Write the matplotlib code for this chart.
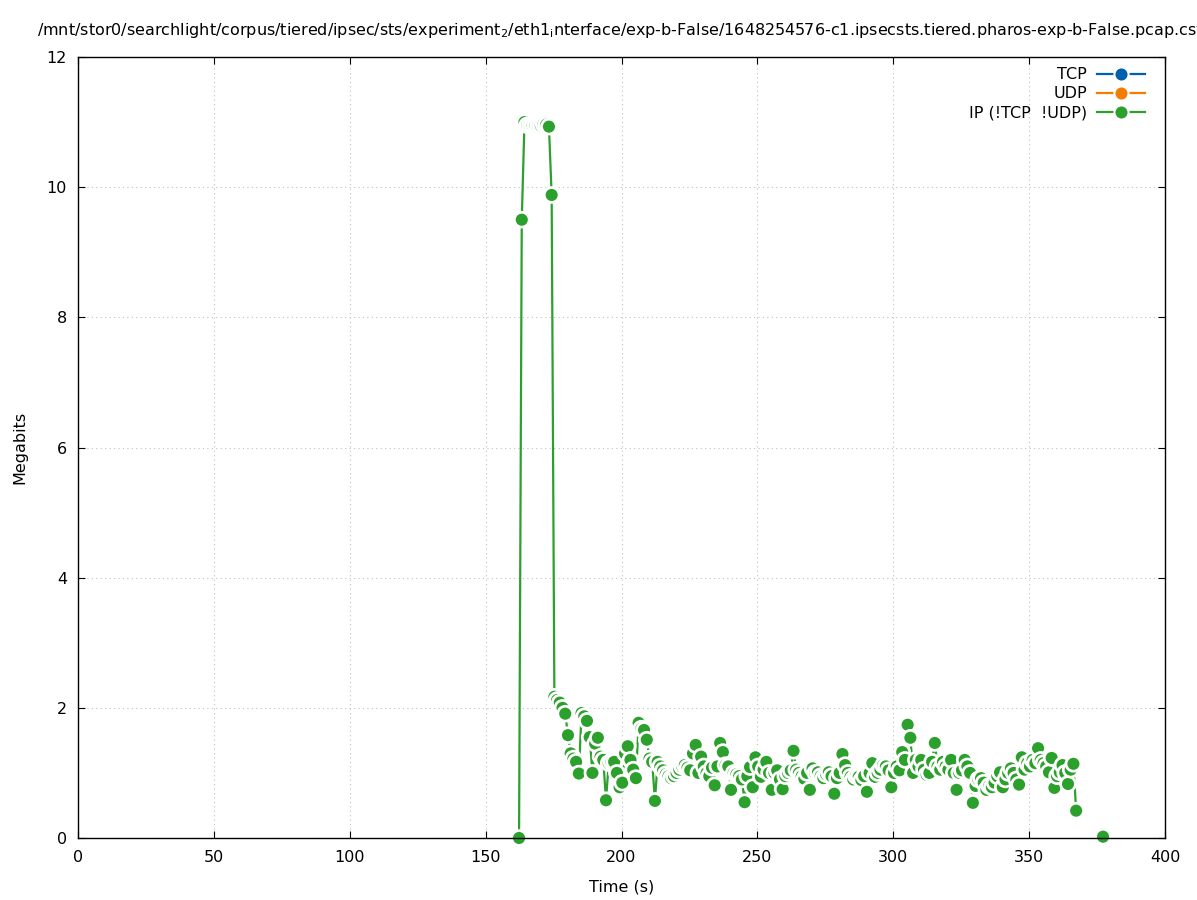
import numpy as np
import matplotlib
matplotlib.use("Agg")
import matplotlib.pyplot as plt
from matplotlib.lines import Line2D

# ---- data ----
title_text = ("/mnt/stor0/searchlight/corpus/tiered/ipsec/sts/experiment$_2$/eth1$_{\\mathrm{i}}$nterface/"
              "exp-b-False/1648254576-c1.ipsecsts.tiered.pharos-exp-b-False.pcap.csv")
series_labels = ["TCP", "UDP", "IP (!TCP  !UDP)"]
series_colors = ["#0060ad", "#f47c00", "#2ca02c"]

ip_start = 162.3          # time of first sample (s)
ip_step = 1.0             # sampling interval (s)
ip_values = [
    0.0, 9.5, 11.0, 10.95, 10.95, 10.95, 10.95, 10.95, 10.95, 10.97,
    10.96, 10.93, 9.88, 2.17, 2.12, 2.08, 2.0, 1.91, 1.58, 1.3,
    1.22, 1.17, 0.99, 1.92, 1.87, 1.80, 1.55, 1.0, 1.45, 1.54,
    1.25, 1.2, 0.58, 1.15, 1.17, 1.17, 1.0, 0.78, 0.85, 1.3,
    1.41, 1.2, 1.05, 0.92, 1.77, 1.68, 1.66, 1.51, 1.22, 1.17,
    0.57, 1.17, 1.1, 1.04, 0.98, 0.95, 0.92, 0.95, 1.0, 1.05,
    1.1, 1.12, 1.08, 1.04, 1.3, 1.43, 1.0, 1.25, 1.1, 1.0,
    0.95, 1.08, 0.81, 1.1, 1.46, 1.32, 1.12, 1.1, 0.74, 1.0,
    0.98, 0.95, 0.9, 0.55, 0.95, 1.09, 0.78, 1.24, 1.1, 0.94,
    1.05, 1.17, 1.0, 0.74, 1.0, 1.04, 0.9, 0.75, 0.95, 1.0,
    1.04, 1.34, 1.05, 1.0, 0.95, 0.91, 1.0, 0.74, 1.07, 1.0,
    1.01, 0.95, 0.92, 0.98, 1.01, 0.95, 0.68, 0.92, 1.0, 1.29,
    1.12, 1.0, 0.94, 0.9, 0.95, 0.94, 0.89, 0.95, 0.71, 1.0,
    1.15, 0.94, 1.0, 1.05, 1.12, 1.1, 1.04, 0.78, 1.0, 1.1,
    1.04, 1.32, 1.2, 1.74, 1.54, 1.0, 1.2, 1.1, 1.2, 1.05,
    0.97, 1.0, 1.17, 1.46, 1.1, 1.05, 1.17, 1.1, 1.05, 1.2,
    1.0, 0.74, 1.0, 1.04, 1.2, 1.1, 1.0, 0.54, 0.8, 0.9,
    0.92, 0.85, 0.74, 0.8, 0.78, 0.85, 0.95, 1.01, 0.78, 0.9,
    1.0, 1.07, 1.0, 0.9, 0.82, 1.24, 1.05, 1.15, 1.1, 1.2,
    1.15, 1.38, 1.2, 1.15, 1.1, 1.01, 1.23, 0.77, 0.95, 1.01,
    1.12, 1.0, 0.83, 1.05, 1.14, 0.42,
]
# isolated final sample (not joined to the run above)
ip_tail_time = [377.2]
ip_tail_value = [0.02]

x_ticks = [0, 50, 100, 150, 200, 250, 300, 350, 400]
y_ticks = [0, 2, 4, 6, 8, 10, 12]

# ---- build ----
t_main = ip_start + ip_step * np.arange(len(ip_values))
v_main = np.array(ip_values, float)
t = np.concatenate([t_main, ip_tail_time])
v = np.concatenate([v_main, ip_tail_value])

W, H = 1197, 900
fig = plt.figure(figsize=(W / 100, H / 100), dpi=100)
ax_l, ax_r, ax_t, ax_b = 78, 1165, 57, 838
ax = fig.add_axes([ax_l / W, 1 - ax_b / H, (ax_r - ax_l) / W, (ax_b - ax_t) / H])

fs = 11.5
green = series_colors[2]

# connecting line of the main run
ax.plot(t_main, v_main, color=green, lw=1.6, zorder=2, clip_on=False)

# gnuplot-like linespoints with gaps: white disc then coloured disc per point
xs = np.repeat(t, 2)
ys = np.repeat(v, 2)
sizes = np.tile([160.0, 76.0], len(t))
cols = [c for _ in range(len(t)) for c in ("white", green)]
ax.scatter(xs, ys, s=sizes, c=cols, linewidths=0, zorder=2.2, clip_on=False)

ax.set_xlim(0, 400)
ax.set_ylim(0, 12)
ax.set_xticks(x_ticks)
ax.set_yticks(y_ticks)
ax.tick_params(direction="in", length=5, width=0.8, top=True, right=True,
               labelsize=fs, colors="black")
ax.tick_params(axis="x", pad=9)
ax.tick_params(axis="y", pad=8)
for sp in ax.spines.values():
    sp.set_linewidth(1.0)
    sp.set_color("black")
ax.grid(True, color="#c0c0c0", lw=0.8, linestyle=(0, (1, 3)))
ax.set_axisbelow(True)

ax.set_xlabel("Time (s)", fontsize=fs, labelpad=10)
ax.set_ylabel("Megabits", fontsize=fs, labelpad=14)

fig.text(((ax_l + ax_r) / 2) / W, 1 - 30 / H, title_text, ha="center", va="center",
         fontsize=fs)

handles = [Line2D([0], [0], color=c, lw=1.6, marker="o", markersize=10.2,
                  markerfacecolor=c, markeredgecolor="white", markeredgewidth=1.5)
           for c in series_colors]
leg = ax.legend(handles, series_labels, loc="upper right", frameon=False,
                markerfirst=False, fontsize=fs, handlelength=3.0, handletextpad=0.62,
                labelspacing=0.25, borderaxespad=0.3,
                bbox_to_anchor=(1 - 9 / (ax_r - ax_l), 1.0 + 1 / (ax_b - ax_t)))

fig.savefig("out.png", dpi=100)
